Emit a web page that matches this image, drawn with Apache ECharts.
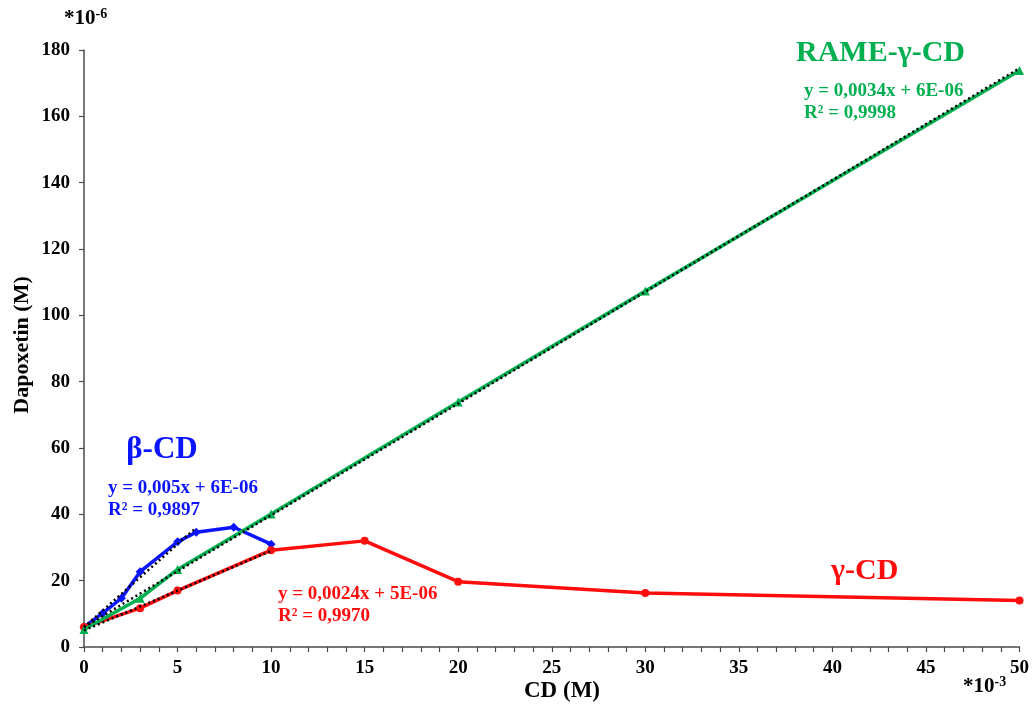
<!DOCTYPE html>
<html><head><meta charset="utf-8">
<script src="https://cdn.jsdelivr.net/npm/echarts@6/dist/echarts.min.js"></script>
<style>html,body{margin:0;padding:0;background:#fff}#c{width:1032px;height:704px}</style>
</head><body><div id="c"></div>
<script>
// CD concentration (×10^-3 M) and Dapoxetin (×10^-6 M)
const betaX = [0, 1, 2, 3, 5, 6, 8, 10];
const betaY = [6.0, 10.2, 14.7, 22.7, 31.7, 34.6, 36.1, 31.0];
const gammaX = [0, 3, 5, 10, 15, 20, 30, 50];
const gammaY = [6.0, 11.7, 17.0, 29.2, 32.0, 19.7, 16.3, 14.0];
const rameX = [0, 3, 5, 10, 20, 30, 50];
const rameY = [5.3, 14.7, 23.4, 40.1, 73.9, 107.3, 173.8];
// trendline endpoints
const betaTrendX = [0, 6];
const betaTrendY = [6.0, 36.0];
const gammaTrendX = [0, 10];
const gammaTrendY = [5.0, 29.0];
const rameTrendX = [0, 50];
const rameTrendY = [6.0, 174.5];
const xTicks = [0, 5, 10, 15, 20, 25, 30, 35, 40, 45, 50];
const yTicks = [0, 20, 40, 60, 80, 100, 120, 140, 160, 180];

const zip = (xs, ys) => xs.map((x, i) => [x, ys[i]]);
const FONT = '"Liberation Serif", "Times New Roman", serif';
const BLUE = '#0a14ff', RED = '#ff0d0d', GREEN = '#00b050';

const chart = echarts.init(document.getElementById('c'));
const axisLine = {lineStyle: {color: '#4a4a4a', width: 1.5}};
chart.setOption({
  animation: false,
  grid: {left: 84, right: 11, top: 50, bottom: 57},
  xAxis: {
    type: 'value', min: 0, max: 50, interval: 1,
    axisLine: axisLine,
    axisTick: {show: true, length: 5, lineStyle: {color: '#4a4a4a', width: 1.2}},
    splitLine: {show: false},
    axisLabel: {
      margin: 12, color: '#000', fontFamily: FONT, fontWeight: 'bold', fontSize: 19,
      formatter: v => (xTicks.indexOf(v) >= 0 ? String(v) : '')
    }
  },
  yAxis: {
    type: 'value', min: 0, max: 180, interval: 20,
    axisLine: {show: true, lineStyle: {color: '#4a4a4a', width: 1.5}},
    axisTick: {show: true, length: 5, lineStyle: {color: '#4a4a4a', width: 1.2}},
    splitLine: {show: false},
    axisLabel: {
      margin: 14, color: '#000', fontFamily: FONT, fontWeight: 'bold', fontSize: 19,
      formatter: v => (yTicks.indexOf(v) >= 0 ? String(v) : '')
    }
  },
  series: [
    {type: 'line', data: zip(betaX, betaY), symbol: 'diamond', symbolSize: 9,
     lineStyle: {color: BLUE, width: 3.5}, itemStyle: {color: BLUE}, z: 2},
    {type: 'line', data: zip(gammaX, gammaY), symbol: 'circle', symbolSize: 8,
     lineStyle: {color: RED, width: 3.5}, itemStyle: {color: RED}, z: 3},
    {type: 'line', data: zip(rameX, rameY), symbol: 'triangle', symbolSize: 9,
     lineStyle: {color: GREEN, width: 3.5}, itemStyle: {color: GREEN}, z: 4},
    {type: 'line', data: zip(betaTrendX, betaTrendY), symbol: 'none',
     lineStyle: {color: '#000', width: 2.5, type: [2, 3]}, z: 5},
    {type: 'line', data: zip(gammaTrendX, gammaTrendY), symbol: 'none',
     lineStyle: {color: '#000', width: 2.5, type: [2, 3]}, z: 5},
    {type: 'line', data: zip(rameTrendX, rameTrendY), symbol: 'none',
     lineStyle: {color: '#000', width: 2.5, type: [2, 3]}, z: 5}
  ],
  graphic: [
    {type: 'text', left: 64, top: 7, style: {
      text: '{a|*10}{b|-6}', rich: {
        a: {fontFamily: FONT, fontWeight: 'bold', fontSize: 21, fill: '#000'},
        b: {fontFamily: FONT, fontWeight: 'bold', fontSize: 14, fill: '#000', verticalAlign: 'top', padding: [0, 0, 10, 0]}
      }}},
    {type: 'text', left: 963, top: 675, style: {
      text: '{a|*10}{b|-3}', rich: {
        a: {fontFamily: FONT, fontWeight: 'bold', fontSize: 21, fill: '#000'},
        b: {fontFamily: FONT, fontWeight: 'bold', fontSize: 14, fill: '#000', verticalAlign: 'top', padding: [0, 0, 10, 0]}
      }}},
    {type: 'text', x: 562, y: 691, style: {
      text: 'CD (M)', fontFamily: FONT, fontWeight: 'bold', fontSize: 23, fill: '#000',
      align: 'center', verticalAlign: 'middle'}},
    {type: 'text', x: 22, y: 345, rotation: Math.PI / 2, style: {
      text: 'Dapoxetin (M)', fontFamily: FONT, fontWeight: 'bold', fontSize: 22, fill: '#000',
      align: 'center', verticalAlign: 'middle'}},
    {type: 'text', x: 162, y: 450, style: {
      text: 'β-CD', fontFamily: FONT, fontWeight: 'bold', fontSize: 31, fill: BLUE,
      align: 'center', verticalAlign: 'middle'}},
    {type: 'text', left: 108, top: 477, style: {
      text: 'y = 0,005x + 6E-06\nR² = 0,9897', fontFamily: FONT, fontWeight: 'bold', fontSize: 19,
      lineHeight: 22, fill: BLUE}},
    {type: 'text', left: 796, top: 38, style: {
      text: 'RAME-γ-CD', fontFamily: FONT, fontWeight: 'bold', fontSize: 30, fill: GREEN}},
    {type: 'text', left: 804, top: 80, style: {
      text: 'y = 0,0034x + 6E-06\nR² = 0,9998', fontFamily: FONT, fontWeight: 'bold', fontSize: 19,
      lineHeight: 22, fill: GREEN}},
    {type: 'text', left: 278, top: 583, style: {
      text: 'y = 0,0024x + 5E-06\nR² = 0,9970', fontFamily: FONT, fontWeight: 'bold', fontSize: 19,
      lineHeight: 22, fill: RED}},
    {type: 'text', left: 831, top: 556, style: {
      text: 'γ-CD', fontFamily: FONT, fontWeight: 'bold', fontSize: 30, fill: RED}}
  ]
});
</script></body></html>
